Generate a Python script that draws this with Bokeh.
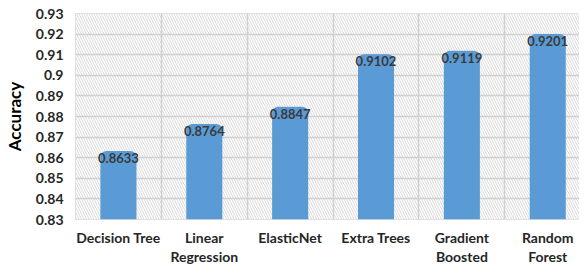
from bokeh.plotting import figure
from bokeh.models import ColumnDataSource, FixedTicker, Range1d
from bokeh.core.properties import value
from bokeh.embed import file_html
from bokeh.resources import INLINE

models = ["Decision Tree", "Linear\nRegression", "ElasticNet", "Extra Trees", "Gradient\nBoosted", "Random\nForest"]
accuracy = [0.8633, 0.8764, 0.8847, 0.9102, 0.9119, 0.9201]
y_ticks = [0.83, 0.84, 0.85, 0.86, 0.87, 0.88, 0.89, 0.90, 0.91, 0.92, 0.93]
y_tick_labels = ["0.83", "0.84", "0.85", "0.86", "0.87", "0.88", "0.89", "0.9", "0.91", "0.92", "0.93"]

X_END = 5.87
xs = [i + 0.5 for i in range(len(models))]
src = ColumnDataSource(dict(x=xs, top=accuracy, label=["%.4f" % a for a in accuracy]))

p = figure(width=579, height=269, output_backend="svg", toolbar_location=None,
           x_range=Range1d(0, X_END), y_range=Range1d(y_ticks[0], y_ticks[-1]),
           min_border_left=67, min_border_right=0, min_border_top=13, min_border_bottom=50)
p.outline_line_color = "#d6d6d6"
p.background_fill_color = "white"

bg = p.quad(left=[0], right=[X_END], bottom=[y_ticks[0]], top=[y_ticks[-1]], fill_color="white",
            line_color=None, hatch_pattern="\\", hatch_color="#d9d9d9",
            hatch_scale=5, hatch_weight=1, level="image")

p.ygrid.ticker = FixedTicker(ticks=y_ticks)
p.ygrid.grid_line_color = "#d0d0d0"
p.ygrid.grid_line_width = 1.5
p.ygrid.level = "underlay"
p.xgrid.ticker = FixedTicker(ticks=list(range(len(models) + 1)))
p.xgrid.grid_line_color = "#d0d0d0"
p.xgrid.grid_line_width = 1.5
p.xgrid.level = "underlay"

p.vbar(x="x", top="top", bottom=y_ticks[0], width=0.42, source=src, fill_color="#5b9bd5",
       line_color=None, border_radius=(6, 6, 0, 0))

p.text(x="x", y="top", text="label", source=src, text_align="center", text_baseline="middle",
       y_offset=7, text_font_size="13px", text_font_style="bold", text_color="#3a3a3a",
       text_font=value("Lato"))

p.xaxis.ticker = FixedTicker(ticks=xs)
p.xaxis.major_label_overrides = {x: m for x, m in zip(xs, models)}
p.yaxis.ticker = FixedTicker(ticks=y_ticks)
p.yaxis.major_label_overrides = {t: l for t, l in zip(y_ticks, y_tick_labels)}

for ax in (p.xaxis, p.yaxis):
    ax.axis_line_color = None
    ax.major_tick_line_color = None
    ax.minor_tick_line_color = None
    ax.major_tick_out = 0
    ax.major_tick_in = 0
    ax.minor_tick_out = 0
    ax.major_label_text_font = "Lato"
    ax.major_label_text_font_style = "bold"
    ax.major_label_text_font_size = "14px"
    ax.major_label_text_color = "#262626"

p.xaxis.major_label_standoff = 9
p.xaxis.major_label_text_line_height = 1.15
p.yaxis.major_label_standoff = 12
p.yaxis.axis_label = "Accuracy"
p.yaxis.axis_label_text_font = "Lato"
p.yaxis.axis_label_text_font_style = "bold"
p.yaxis.axis_label_text_font_size = "17px"
p.yaxis.axis_label_text_color = "#000000"
p.yaxis.axis_label_standoff = 8

open("out.html", "w").write(file_html(p, INLINE))
